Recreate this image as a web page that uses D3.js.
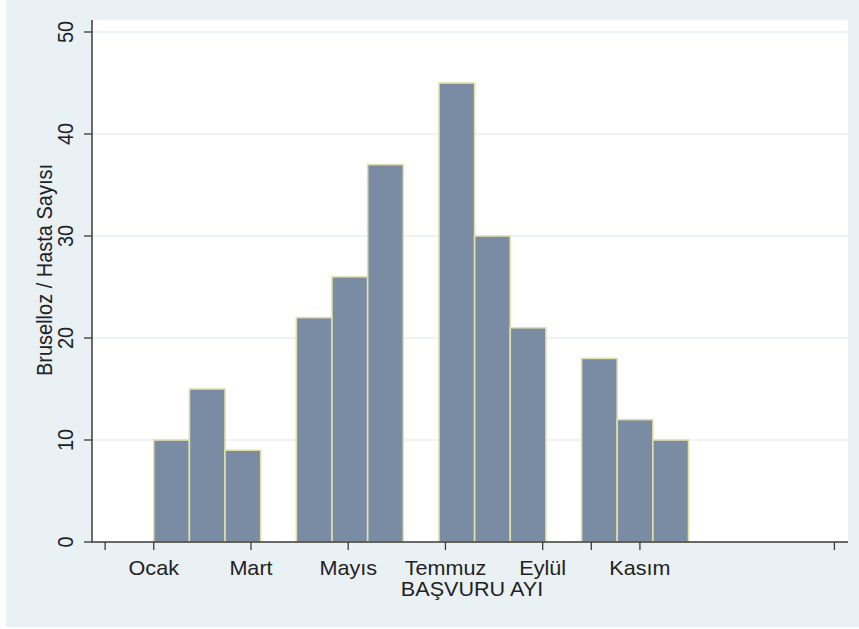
<!DOCTYPE html>
<html><head><meta charset="utf-8">
<script src="https://cdn.jsdelivr.net/npm/d3@7"></script>
<style>
html,body{margin:0;padding:0;background:#ffffff;}
svg{display:block;font-family:"Liberation Sans",Arial,sans-serif;}
</style></head>
<body>
<script>
// Data
const months = [1,2,3,4,5,6,7,8,9,10,11,12];
const counts = [10,15,9,22,26,37,45,30,21,18,12,10];
const yTicks = [0,10,20,30,40,50];
const xTickValues = [0,1,3,5,7,9,10,11,15];
const xTickLabels = {1:"Ocak",3:"Mart",5:"Mayıs",7:"Temmuz",9:"Eylül",11:"Kasım"};
const nBins = 15;
const yTitle = "Bruselloz / Hasta Sayısı";
const xTitle = "BAŞVURU AYI";

const W = 859, H = 629;
const svg = d3.select("body").append("svg").attr("width", W).attr("height", H);

// outer graph region
svg.append("rect").attr("x",6).attr("y",0).attr("width",W-6).attr("height",627).attr("fill","#e9f1f5");

const plot = {left:92, right:848, top:20, bottom:542};
svg.append("rect").attr("x",plot.left).attr("y",plot.top)
  .attr("width",plot.right-plot.left).attr("height",plot.bottom-plot.top).attr("fill","#ffffff");

const x = d3.scaleLinear().domain([-0.27, 15.28]).range([plot.left, plot.right]);
const y = d3.scaleLinear().domain([0, 50]).range([plot.bottom, 32]);

// gridlines
svg.append("g").selectAll("line").data(yTicks.filter(d=>d>0)).join("line")
  .attr("x1",plot.left).attr("x2",plot.right)
  .attr("y1",d=>y(d)).attr("y2",d=>y(d))
  .attr("stroke","#e6eef2").attr("stroke-width",1.5);

// histogram bins
const lo = d3.min(months), hi = d3.max(months);
const bw = (hi - lo) / nBins;
const bars = months.map((m,i)=>{
  const b = Math.min(nBins-1, Math.floor((m-lo)/bw + 1e-9));
  return {x0: lo + b*bw, x1: lo + (b+1)*bw, v: counts[i]};
});
svg.append("g").selectAll("rect").data(bars).join("rect")
  .attr("x",d=>x(d.x0)).attr("width",d=>x(d.x1)-x(d.x0))
  .attr("y",d=>y(d.v)).attr("height",d=>y(0)-y(d.v))
  .attr("fill","#7a8ca4").attr("stroke","#e2dfa8").attr("stroke-width",1.6);

const axisColor = "#3a3a3a";
const sx = 1.08;

// y axis
svg.append("line").attr("x1",plot.left).attr("x2",plot.left).attr("y1",plot.top).attr("y2",plot.bottom+0.5)
  .attr("stroke",axisColor).attr("stroke-width",1.5);
const yg = svg.append("g");
yg.selectAll("line").data(yTicks).join("line")
  .attr("x1",plot.left-8).attr("x2",plot.left).attr("y1",d=>y(d)).attr("y2",d=>y(d))
  .attr("stroke",axisColor).attr("stroke-width",1.3);
yg.selectAll("text").data(yTicks).join("text")
  .attr("transform",d=>`translate(73,${y(d)}) scale(${sx},1) rotate(-90)`)
  .attr("text-anchor","middle").attr("font-size",20).attr("fill","#222")
  .text(d=>d);
svg.append("text").attr("transform",`translate(52,270) scale(${sx},1) rotate(-90)`)
  .attr("text-anchor","middle").attr("font-size",20).attr("fill","#222").text(yTitle);

// x axis
svg.append("line").attr("x1",plot.left).attr("x2",plot.right).attr("y1",plot.bottom).attr("y2",plot.bottom)
  .attr("stroke",axisColor).attr("stroke-width",1.5);
const xg = svg.append("g");
xg.selectAll("line").data(xTickValues).join("line")
  .attr("x1",d=>x(d)).attr("x2",d=>x(d)).attr("y1",plot.bottom).attr("y2",plot.bottom+8)
  .attr("stroke",axisColor).attr("stroke-width",1.3);
xg.selectAll("text").data(xTickValues.filter(d=>xTickLabels[d])).join("text")
  .attr("transform",d=>`translate(${x(d)},575) scale(${sx},1)`)
  .attr("text-anchor","middle").attr("font-size",20).attr("fill","#222")
  .text(d=>xTickLabels[d]);
svg.append("text").attr("transform",`translate(${(plot.left+plot.right)/2+2},596) scale(${sx},1)`)
  .attr("text-anchor","middle").attr("font-size",20).attr("fill","#222").text(xTitle);
</script>
</body></html>
